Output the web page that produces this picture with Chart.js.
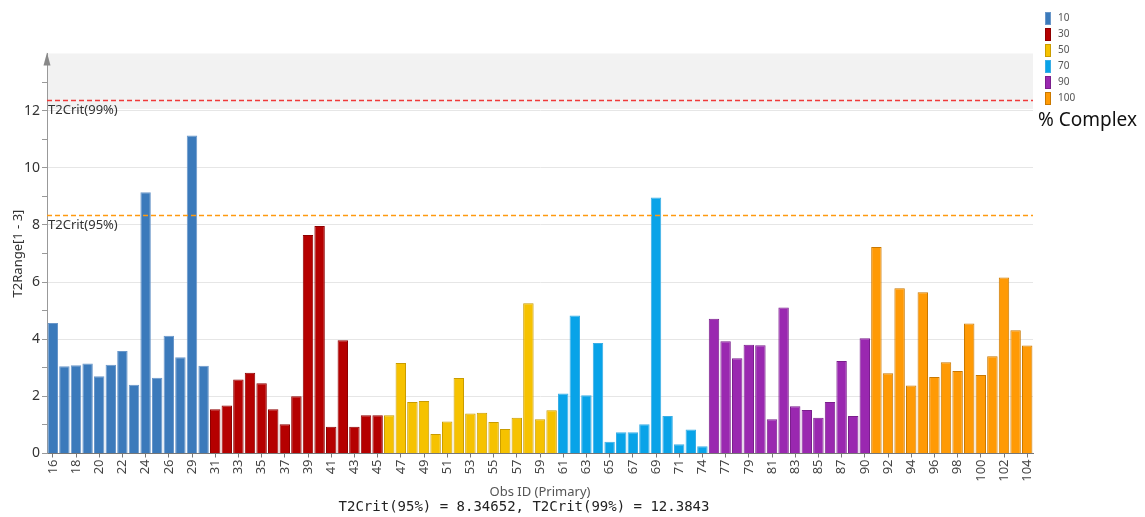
<!DOCTYPE html>
<html>
<head>
<meta charset="utf-8">
<script src="https://cdn.jsdelivr.net/npm/chart.js@4.4.1/dist/chart.umd.min.js"></script>
<style>
  html, body { margin: 0; padding: 0; background: #fff; }
  #wrap { width: 1145px; height: 517px; position: relative; }
</style>
</head>
<body>
<div id="wrap"><canvas id="t2Chart"></canvas></div>
<script>
// observation ids and T2Range values, one pair of arrays per % complex group
const ids10 = [16, 17, 18, 19, 20, 21, 22, 23, 24, 25, 26, 27, 29, 30];
const vals10 = [4.57, 3.05, 3.09, 3.15, 2.70, 3.11, 3.59, 2.41, 9.14, 2.65, 4.12, 3.37, 11.13, 3.07];
const ids30 = [31, 32, 33, 34, 35, 36, 37, 38, 39, 40, 41, 42, 43, 44, 45];
const vals30 = [1.55, 1.68, 2.59, 2.83, 2.46, 1.55, 1.02, 2.00, 7.65, 7.96, 0.94, 3.96, 0.94, 1.34, 1.34];
const ids50 = [46, 47, 48, 49, 50, 51, 52, 53, 54, 55, 56, 57, 58, 59, 60];
const vals50 = [1.34, 3.17, 1.80, 1.84, 0.68, 1.12, 2.64, 1.40, 1.43, 1.10, 0.86, 1.25, 5.26, 1.20, 1.51];
const ids70 = [61, 62, 63, 64, 65, 66, 67, 68, 69, 70, 71, 72, 74];
const vals70 = [2.10, 4.83, 2.04, 3.87, 0.41, 0.74, 0.74, 1.02, 8.96, 1.31, 0.32, 0.84, 0.25];
const ids90 = [76, 77, 78, 79, 80, 81, 82, 83, 84, 85, 86, 87, 88, 90];
const vals90 = [4.72, 3.93, 3.33, 3.81, 3.79, 1.20, 5.11, 1.65, 1.52, 1.25, 1.80, 3.24, 1.31, 4.03];
const ids100 = [91, 92, 93, 94, 95, 96, 97, 98, 99, 100, 101, 102, 103, 104];
const vals100 = [7.23, 2.81, 5.78, 2.38, 5.64, 2.68, 3.19, 2.89, 4.55, 2.75, 3.40, 6.16, 4.31, 3.78];

const groupNames = ['10', '30', '50', '70', '90', '100'];
const groupIds = [ids10, ids30, ids50, ids70, ids90, ids100];
const groupVals = [vals10, vals30, vals50, vals70, vals90, vals100];

const t2Crit95 = 8.34652;
const t2Crit99 = 12.3843;
const yTicks = [0, 2, 4, 6, 8, 10, 12];

const groupColors = ['#3b7abb', '#b50000', '#f6c200', '#08a3e8', '#9a28b0', '#ff9a05'];
const groupBorders = ['#6a97c9', '#8e0000', '#c99c00', '#3aaee6', '#7a1f8c', '#c97800'];

const FONT = '"Noto Sans", "Open Sans", sans-serif';
Chart.defaults.font.family = FONT;

const labels = groupIds.flat().map(String);

const datasets = groupNames.map((name, g) => ({
  label: name,
  data: groupIds[g].map((id, i) => ({ x: String(id), y: groupVals[g][i] })),
  backgroundColor: groupColors[g],
  borderColor: groupBorders[g],
  borderWidth: 1
}));

const extras = {
  id: 'extras',
  beforeDraw(chart) {
    const { ctx, chartArea } = chart;
    const y = chart.scales.y;
    // shaded region above the 99% limit
    ctx.save();
    ctx.fillStyle = '#f2f2f2';
    const yb = y.getPixelForValue(12.06);
    ctx.fillRect(chartArea.left, chartArea.top, chartArea.right - chartArea.left, yb - chartArea.top);
    ctx.restore();
  },
  afterDatasetsDraw(chart) {
    const { ctx, chartArea } = chart;
    const y = chart.scales.y;
    ctx.save();
    const lines = [
      { v: t2Crit99, color: '#f03a3a', text: 'T2Crit(99%)' },
      { v: t2Crit95, color: '#ff9a10', text: 'T2Crit(95%)' }
    ];
    lines.forEach(l => {
      const py = Math.round(y.getPixelForValue(l.v)) + 0.5;
      ctx.strokeStyle = l.color;
      ctx.lineWidth = 1.6;
      ctx.setLineDash([5, 3]);
      ctx.beginPath();
      ctx.moveTo(chartArea.left, py);
      ctx.lineTo(chartArea.right, py);
      ctx.stroke();
      ctx.setLineDash([]);
      ctx.fillStyle = '#333';
      ctx.font = '13px ' + FONT;
      ctx.textAlign = 'left';
      ctx.textBaseline = 'top';
      ctx.fillText(l.text, chartArea.left + 1, py + 3);
    });
    // arrow on top of the y axis
    const ax = chartArea.left;
    ctx.fillStyle = '#888';
    ctx.beginPath();
    ctx.moveTo(ax, chartArea.top - 1);
    ctx.lineTo(ax - 3.5, chartArea.top + 12);
    ctx.lineTo(ax + 3.5, chartArea.top + 12);
    ctx.closePath();
    ctx.fill();
    ctx.restore();
  },
  afterDraw(chart) {
    const { ctx, chartArea } = chart;
    ctx.save();
    // x axis title and footer
    ctx.textAlign = 'center';
    ctx.textBaseline = 'middle';
    ctx.fillStyle = '#555';
    ctx.font = '13px ' + FONT;
    ctx.fillText('Obs ID (Primary)', (chartArea.left + chartArea.right) / 2, 492);
    ctx.fillStyle = '#222';
    ctx.font = '14px "DejaVu Sans Mono", monospace';
    ctx.fillText('T2Crit(95%) = ' + t2Crit95 + ', T2Crit(99%) = ' + t2Crit99, 524, 507);
    // legend
    const lx = chartArea.right + 12;
    chart.data.datasets.forEach((ds, i) => {
      const top = 12 + i * 16;
      ctx.fillStyle = ds.backgroundColor;
      ctx.fillRect(lx, top, 6, 13);
      ctx.strokeStyle = ds.borderColor;
      ctx.lineWidth = 1;
      ctx.strokeRect(lx + 0.5, top + 0.5, 5, 12);
      ctx.fillStyle = '#555';
      ctx.font = '10px ' + FONT;
      ctx.textAlign = 'left';
      ctx.textBaseline = 'middle';
      ctx.fillText(ds.label, lx + 13, top + 6.5);
    });
    ctx.fillStyle = '#111';
    ctx.font = '19px ' + FONT;
    ctx.textAlign = 'left';
    ctx.textBaseline = 'middle';
    ctx.fillText('% Complex', chartArea.right + 5, 121);
    ctx.restore();
  }
};

new Chart(document.getElementById('t2Chart'), {
  type: 'bar',
  data: { labels, datasets },
  plugins: [extras],
  options: {
    responsive: true,
    maintainAspectRatio: false,
    animation: false,
    layout: { padding: { top: 53.5, right: 112, bottom: 0, left: 0 } },
    datasets: { bar: { grouped: false, barPercentage: 0.9, categoryPercentage: 1 } },
    plugins: {
      legend: { display: false },
      tooltip: { enabled: false }
    },
    scales: {
      x: {
        afterFit: s => { s.height = 63.5; },
        border: { color: '#777' },
        grid: {
          offset: false,
          drawOnChartArea: false,
          tickLength: 4,
          tickColor: c => c.index % 2 === 0 ? '#777' : 'rgba(0,0,0,0)'
        },
        ticks: {
          autoSkip: false,
          minRotation: 90,
          maxRotation: 90,
          padding: 2,
          color: '#444',
          font: { size: 13 },
          callback: function (v, i) { return i % 2 === 0 ? this.getLabelForValue(v) : ''; }
        }
      },
      y: {
        min: 0,
        max: 14,
        afterFit: s => { s.width = 47; },
        border: { color: '#999' },
        title: {
          display: true,
          text: 'T2Range[1 - 3]',
          color: '#333',
          font: { size: 13 },
          padding: { top: 10 }
        },
        grid: {
          tickLength: 5,
          color: c => (c.tick.value > 0 && yTicks.includes(c.tick.value)) ? '#e6e6e6' : 'rgba(0,0,0,0)',
          tickColor: c => c.tick.value < 14 ? '#999' : 'rgba(0,0,0,0)'
        },
        ticks: {
          stepSize: 1,
          padding: 2,
          color: '#333',
          font: { size: 14 },
          callback: v => yTicks.includes(v) ? v : ''
        }
      }
    }
  }
});
</script>
</body>
</html>
